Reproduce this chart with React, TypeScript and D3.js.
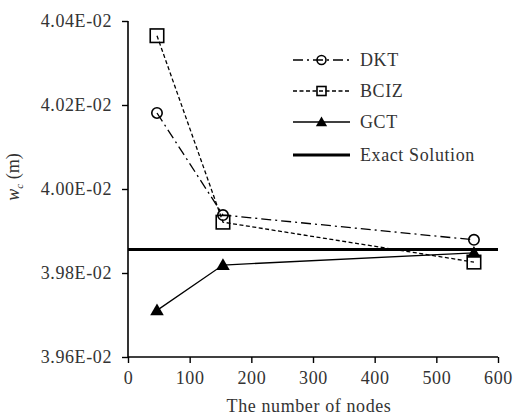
import React, { useEffect, useRef } from 'react';
import * as d3 from 'd3';

// number of nodes (x), deflection w_c in metres (y)
const nodes = [47, 154, 561];
const dkt = [0.040181, 0.039938, 0.039879];
const bciz = [0.040365, 0.039921, 0.039826];
const gct = [0.039711, 0.039819, 0.039848];
const exact = 0.039856;

const xTicks = [0, 100, 200, 300, 400, 500, 600];
const yTicks = [0.0396, 0.0398, 0.04, 0.0402, 0.0404];
const seriesNames = ['DKT', 'BCIZ', 'GCT', 'Exact Solution'];

const W = 513;
const H = 419;
const FONT = 'Liberation Serif';
const FS = '18px';
const LS = '0.6px';

export default function App() {
  const ref = useRef<SVGSVGElement>(null);

  useEffect(() => {
    const svg = d3.select(ref.current);
    svg.selectAll('*').remove();

    const x = d3.scaleLinear().domain([0, 600]).range([128, 498]);
    const y = d3.scaleLinear().domain([0.0396, 0.0404]).range([357, 21]);

    const fmt = (v: number) => (v * 100).toFixed(2) + 'E-02';

    const gy = svg.append('g').attr('transform', 'translate(128,0)')
      .call(d3.axisLeft(y).tickValues(yTicks).tickFormat(d => fmt(+d)).tickSize(6).tickPadding(10));
    const gx = svg.append('g').attr('transform', 'translate(0,357)')
      .call(d3.axisBottom(x).tickValues(xTicks).tickFormat(d3.format('d')).tickSize(6).tickPadding(8));

    [gx, gy].forEach(g => {
      g.select('.domain').attr('stroke', '#000').attr('stroke-width', 1.6);
      g.selectAll('.tick line').attr('stroke', '#000').attr('stroke-width', 1.4);
      g.selectAll('.tick text')
        .attr('fill', '#333')
        .style('font-family', FONT)
        .style('font-size', FS)
        .style('letter-spacing', LS);
    });
    gx.select('.domain').attr('d', 'M128,0H498');
    gy.select('.domain').attr('d', 'M0,21V357');

    // exact solution
    svg.append('line')
      .attr('x1', x(0)).attr('x2', x(600))
      .attr('y1', y(exact)).attr('y2', y(exact))
      .attr('stroke', '#000').attr('stroke-width', 3);

    const line = d3.line<number>().x((_, i) => x(nodes[i])).y(d => y(d));

    const styles = [
      { data: dkt, dash: '10,4,2,4', width: 1.3 },
      { data: bciz, dash: '4,2.5', width: 1.3 },
      { data: gct, dash: null, width: 1.3 },
    ];

    styles.forEach(s => {
      svg.append('path').datum(s.data)
        .attr('d', line)
        .attr('fill', 'none')
        .attr('stroke', '#000')
        .attr('stroke-width', s.width)
        .attr('stroke-dasharray', s.dash);
    });

    const drawCircle = (g: any, cx: number, cy: number, r: number) =>
      g.append('circle').attr('cx', cx).attr('cy', cy).attr('r', r)
        .attr('fill', 'none').attr('stroke', '#000').attr('stroke-width', 1.6);
    const drawSquare = (g: any, cx: number, cy: number, s: number) =>
      g.append('rect').attr('x', cx - s / 2).attr('y', cy - s / 2).attr('width', s).attr('height', s)
        .attr('fill', 'none').attr('stroke', '#000').attr('stroke-width', 1.6);
    const drawTri = (g: any, cx: number, cy: number, sz: number) =>
      g.append('path').attr('d', d3.symbol().type(d3.symbolTriangle).size(sz)())
        .attr('transform', `translate(${cx},${cy + 1})`).attr('fill', '#000');

    dkt.forEach((v, i) => drawCircle(svg, x(nodes[i]), y(v), 5.2));
    bciz.forEach((v, i) => drawSquare(svg, x(nodes[i]), y(v), 13.5));
    gct.forEach((v, i) => drawTri(svg, x(nodes[i]), y(v), 80));

    // legend
    const lx1 = 293, lx2 = 350, tx = 360;
    const rows = [60, 91, 122, 155];
    const dashes = ['10,4,2,4', '4,2.5', null, null];
    const widths = [1.3, 1.3, 1.3, 3];
    rows.forEach((ry, i) => {
      svg.append('line').attr('x1', lx1).attr('x2', lx2).attr('y1', ry).attr('y2', ry)
        .attr('stroke', '#000').attr('stroke-width', widths[i])
        .attr('stroke-dasharray', dashes[i]);
      svg.append('text').attr('x', tx).attr('y', ry + 6)
        .attr('fill', '#333')
        .style('font-family', FONT).style('font-size', FS).style('letter-spacing', LS)
        .text(seriesNames[i]);
    });
    const mx = (lx1 + lx2) / 2;
    drawCircle(svg, mx, rows[0], 4.5);
    drawSquare(svg, mx, rows[1], 9);
    drawTri(svg, mx, rows[2], 55);

    // axis titles
    svg.append('text').attr('x', 309).attr('y', 412).attr('text-anchor', 'middle')
      .attr('fill', '#333')
      .style('font-family', FONT).style('font-size', FS).style('letter-spacing', LS)
      .text('The number of nodes');

    const yt = svg.append('text')
      .attr('transform', 'translate(19,177) rotate(-90)')
      .attr('text-anchor', 'middle')
      .attr('fill', '#333')
      .style('font-family', FONT).style('font-size', FS);
    yt.append('tspan').style('font-style', 'italic').text('w');
    yt.append('tspan').attr('dy', 4).style('font-size', '11px').style('font-style', 'italic').text('c');
    yt.append('tspan').attr('dy', -4).text(' (m)');
  }, []);

  return (
    <svg ref={ref} width={W} height={H}
      style={{ position: 'absolute', left: 0, top: 0, background: '#fff' }} />
  );
}
